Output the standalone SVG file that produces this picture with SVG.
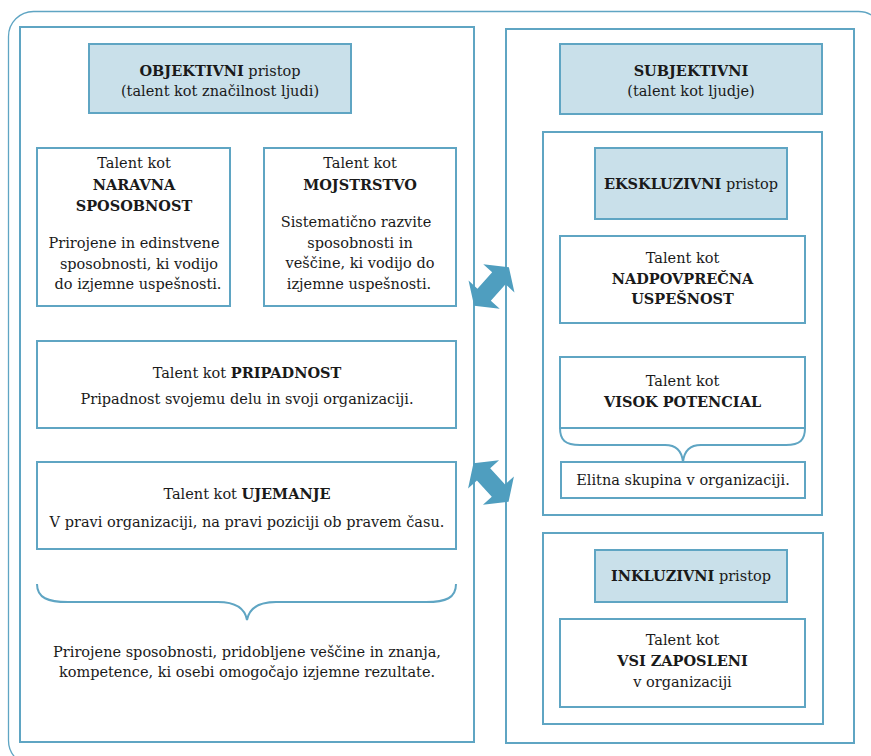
<svg xmlns="http://www.w3.org/2000/svg" width="871" height="756" viewBox="0 0 871 756">
  <style>
    .frame { fill: none; stroke: #5fa5c3; stroke-width: 1.3; }
    .panel { fill: #ffffff; stroke: #5fa5c3; stroke-width: 2; }
    .box { fill: #ffffff; stroke: #5fa5c3; stroke-width: 2; }
    .head { fill: #c9e0ea; stroke: #5fa5c3; stroke-width: 2; }
    .brace { fill: none; stroke: #5fa5c3; stroke-width: 2; }
    .arrow { fill: #4f9ebf; }
    text { font-family: "DejaVu Serif", "Liberation Serif", serif; font-size: 14.5px; fill: #1a1a1a; text-anchor: middle; }
    .b { font-weight: bold; }
  </style>
  <defs>
    <!-- double-headed block arrow, centred on the origin, pointing along x -->
    <path id="dbl" d="M-26,0 L-11,-21 L-11,-9 L11,-9 L11,-21 L26,0 L11,21 L11,9 L-11,9 L-11,21 Z"/>
  </defs>

  <rect width="871" height="756" fill="#ffffff"/>
  <!-- outer rounded frame -->
  <rect class="frame" x="8.5" y="11.5" width="875" height="754" rx="25"/>

  <!-- left panel: objective approach -->
  <g id="objektivni">
    <rect class="panel" x="20" y="27" width="454" height="715"/>
    <g id="objektivni-head">
      <rect class="head" x="89" y="44" width="262" height="69"/>
      <text x="220" y="76"><tspan class="b">OBJEKTIVNI</tspan> pristop</text>
      <text x="220" y="96">(talent kot značilnost ljudi)</text>
    </g>
    <g id="naravna">
      <rect class="box" x="37" y="148" width="193" height="158"/>
      <text x="134" y="168">Talent kot</text>
      <text x="134" y="190" class="b">NARAVNA</text>
      <text x="134" y="211" class="b">SPOSOBNOST</text>
      <text x="134" y="248">Prirojene in edinstvene</text>
      <text x="139" y="269">sposobnosti, ki vodijo</text>
      <text x="138" y="289">do izjemne uspešnosti.</text>
    </g>
    <g id="mojstrstvo">
      <rect class="box" x="264" y="148" width="192" height="158"/>
      <text x="360" y="168">Talent kot</text>
      <text x="360" y="190" class="b">MOJSTRSTVO</text>
      <text x="356" y="227">Sistematično razvite</text>
      <text x="360" y="248">sposobnosti in</text>
      <text x="360" y="268">veščine, ki vodijo do</text>
      <text x="359" y="289">izjemne uspešnosti.</text>
    </g>
    <g id="pripadnost">
      <rect class="box" x="37" y="341" width="419" height="87"/>
      <text x="247" y="378">Talent kot <tspan class="b">PRIPADNOST</tspan></text>
      <text x="247" y="404">Pripadnost svojemu delu in svoji organizaciji.</text>
    </g>
    <g id="ujemanje">
      <rect class="box" x="37" y="462" width="419" height="87"/>
      <text x="247" y="499">Talent kot <tspan class="b">UJEMANJE</tspan></text>
      <text x="247" y="527">V pravi organizaciji, na pravi poziciji ob pravem času.</text>
    </g>
    <g id="objektivni-povzetek">
      <path class="brace" d="M37,584 C37,598 48,602 68,602 L218,602 C236,602 245,609 247,620 C249,609 258,602 276,602 L426,602 C446,602 456,598 456,584"/>
      <text x="247" y="657">Prirojene sposobnosti, pridobljene veščine in znanja,</text>
      <text x="247" y="677">kompetence, ki osebi omogočajo izjemne rezultate.</text>
    </g>
  </g>

  <!-- right panel: subjective approach -->
  <g id="subjektivni">
    <rect class="panel" x="506" y="29" width="348" height="714"/>
    <g id="subjektivni-head">
      <rect class="head" x="560" y="44" width="262" height="70"/>
      <text x="691" y="76" class="b">SUBJEKTIVNI</text>
      <text x="691" y="96">(talent kot ljudje)</text>
    </g>
    <g id="ekskluzivni">
      <rect class="panel" x="543" y="132" width="279" height="383"/>
      <rect class="head" x="595" y="148" width="192" height="71"/>
      <text x="691" y="189"><tspan class="b">EKSKLUZIVNI</tspan> pristop</text>
    </g>
    <g id="nadpovprecna">
      <rect class="box" x="560" y="236" width="245" height="87"/>
      <text x="682.5" y="263">Talent kot</text>
      <text x="682.5" y="284" class="b">NADPOVPREČNA</text>
      <text x="682.5" y="304" class="b">USPEŠNOST</text>
    </g>
    <g id="visok-potencial">
      <rect class="box" x="560" y="357" width="245" height="71"/>
      <path class="brace" d="M560,428 C560,440 565,445 580,445 L665,445 C677,445 682,452 683,462 C684,452 689,445 701,445 L786,445 C800,445 805,440 805,428"/>
      <text x="682.5" y="386">Talent kot</text>
      <text x="682.5" y="407" class="b">VISOK POTENCIAL</text>
    </g>
    <g id="elitna">
      <rect class="box" x="561" y="462" width="244" height="36"/>
      <text x="683" y="485">Elitna skupina v organizaciji.</text>
    </g>
    <g id="inkluzivni">
      <rect class="panel" x="543" y="533" width="280" height="191"/>
      <rect class="head" x="595" y="550" width="192" height="52"/>
      <text x="691" y="581"><tspan class="b">INKLUZIVNI</tspan> pristop</text>
    </g>
    <g id="vsi-zaposleni">
      <rect class="box" x="560" y="619" width="245" height="88"/>
      <text x="682.5" y="645">Talent kot</text>
      <text x="682.5" y="666" class="b">VSI ZAPOSLENI</text>
      <text x="682.5" y="687">v organizaciji</text>
    </g>
  </g>

  <!-- two-way links between the approaches -->
  <g id="connectors">
    <use href="#dbl" class="arrow" transform="translate(491.5,286.5) rotate(-48)"/>
    <use href="#dbl" class="arrow" transform="translate(491,482.5) rotate(47.5)"/>
  </g>
</svg>
